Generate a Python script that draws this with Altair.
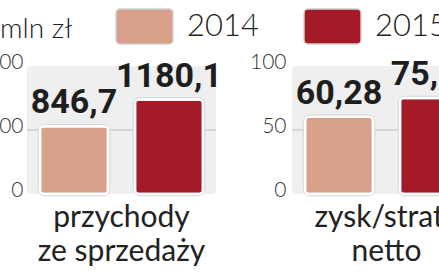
import json
import altair as alt
import pandas as pd

categories = ["przychody ze sprzedaży", "zysk/strata netto"]
category_lines = [["przychody", "ze sprzedaży"], ["zysk/strata", "netto"]]
years = ["2014", "2015"]
revenue = [846.7, 1180.1]
net_profit = [60.28, 75.06]
revenue_ticks = [0, 800, 1600]
profit_ticks = [0, 50, 100]
year_colors = ["#d9a08b", "#a41a28"]
unit_label = "mln zł"


def pl(v):
    return f"{v}".replace(".", ",")


rev = pd.DataFrame({"category": categories[0], "year": years, "value": revenue,
                    "label": [pl(v) for v in revenue]})
prof = pd.DataFrame({"category": categories[1], "year": years, "value": net_profit,
                     "label": [pl(v) for v in net_profit]})
rev_bg = pd.DataFrame({"category": [categories[0]], "top": [revenue_ticks[-1]],
                       "mid": [revenue_ticks[1]], "bottom": [revenue_ticks[0]]})
prof_bg = pd.DataFrame({"category": [categories[1]], "top": [profit_ticks[-1]],
                        "mid": [profit_ticks[1]], "bottom": [profit_ticks[0]]})

label_expr = (f"datum.value == {json.dumps(categories[0], ensure_ascii=False)} ? "
              f"{json.dumps(category_lines[0], ensure_ascii=False)} : "
              f"{json.dumps(category_lines[1], ensure_ascii=False)}")

x_enc = alt.X(
    "category:N", sort=categories,
    scale=alt.Scale(domain=categories, range=[27, 481], paddingInner=0.2868, paddingOuter=0),
    axis=alt.Axis(title=None, domain=False, ticks=False, labelPadding=8, labelFontSize=30,
                  labelFont="Lato", labelColor="#222222", labelLineHeight=34,
                  labelBaseline="top", labelAngle=0, labelExpr=label_expr, labelLimit=400),
)
xo_enc = alt.XOffset("year:N", sort=years,
                     scale=alt.Scale(domain=years, paddingInner=0.284, paddingOuter=0.137))

rect_path = ("M-0.86,-0.614 H0.86 A0.14,0.14 0 0 1 1,-0.474 V0.474 "
             "A0.14,0.14 0 0 1 0.86,0.614 H-0.86 A0.14,0.14 0 0 1 -1,0.474 "
             "V-0.474 A0.14,0.14 0 0 1 -0.86,-0.614 Z")

legend = alt.Legend(title=None, orient="none", legendX=115, legendY=-69, direction="horizontal",
                    symbolType=rect_path, symbolSize=3249, symbolStrokeColor="#d0d0d0",
                    symbolStrokeWidth=1.5, symbolOpacity=1, labelFont="Lato", labelFontSize=31,
                    labelFontWeight=300, labelColor="#222222", labelOffset=13, columnPadding=42,
                    padding=0, labelLimit=200)

color_enc = alt.Color("year:N", sort=years, scale=alt.Scale(domain=years, range=year_colors),
                      legend=legend)

value_font = "Liberation Sans Narrow, Roboto, sans-serif"


def panel(data, bg, ticks, axis_offset):
    y_scale = alt.Scale(domain=[ticks[0], ticks[-1]], nice=False, zero=True)
    y_axis = alt.Axis(values=ticks, orient="left", offset=axis_offset, domain=False, ticks=False,
                      grid=False, labelPadding=3, labelFontSize=21, labelFont="Lato",
                      labelFontWeight=300, labelColor="#333333", labelOffset=-4, title=None)
    back = alt.Chart(bg).mark_bar(color="#efefef", cornerRadius=4).encode(
        x=x_enc, y=alt.Y("top:Q", scale=y_scale, axis=y_axis), y2="bottom:Q")
    grid = alt.Chart(bg).mark_bar(fillOpacity=0, stroke="#cfcfcf", strokeWidth=1).encode(
        x=x_enc, y=alt.Y("mid:Q", scale=y_scale, axis=y_axis), y2="mid:Q")
    shadow = alt.Chart(data).mark_bar(cornerRadius=5, color="#d4d4d4", stroke="#d4d4d4",
                                      strokeWidth=4.5).encode(
        x=x_enc, xOffset=xo_enc, y=alt.Y("value:Q", scale=y_scale, axis=y_axis))
    bars = alt.Chart(data).mark_bar(cornerRadius=4, stroke="white", strokeWidth=2.5,
                                    opacity=1).encode(
        x=x_enc, xOffset=xo_enc, y=alt.Y("value:Q", scale=y_scale, axis=y_axis), color=color_enc)
    labels = alt.Chart(data).mark_text(font=value_font, fontWeight="bold",
                                       fontSize=34, baseline="alphabetic", dy=-13,
                                       color="#1e1e1e").encode(
        x=x_enc, xOffset=xo_enc, y=alt.Y("value:Q", scale=y_scale, axis=y_axis), text="label:N")
    return alt.layer(back, grid, shadow, bars, labels)


left = panel(rev, rev_bg, revenue_ticks, -26)
right = panel(prof, prof_bg, profit_ticks, -289)

chart = alt.layer(left, right).resolve_scale(y="independent").properties(
    width=439, height=128,
    autosize=alt.AutoSizeParams(type="none"),
    padding={"left": 0, "top": 66, "right": 0, "bottom": 80},
    title=alt.TitleParams(unit_label, anchor="start", orient="top", frame="group", offset=0,
                          dy=69, baseline="alphabetic", fontSize=28, font="Lato",
                          fontWeight=300, color="#222222"),
).configure_view(strokeWidth=0)

chart.save("out.html", embed_options={"renderer": "svg", "actions": False})
